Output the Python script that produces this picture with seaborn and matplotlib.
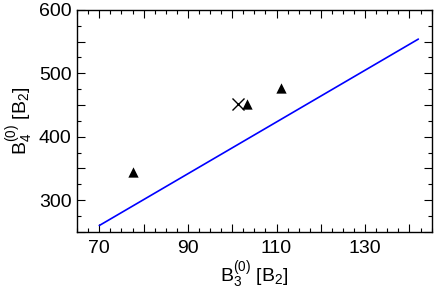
import seaborn as sns
import matplotlib.pyplot as plt
from matplotlib.ticker import MultipleLocator
import pandas as pd

# dati
tri_x = [77.7, 103.3, 110.9]
tri_y = [344, 452, 477]
cross_x = [101.4]
cross_y = [452]
fit_x = [70, 142]
fit_y = [260, 554]

x_ticks = [70, 80, 90, 100, 110, 120, 130, 140]
x_labels = ["70", "", "90", "", "110", "", "130", ""]
y_ticks = [250, 300, 350, 400, 450, 500, 550, 600]
y_labels = ["", "300", "", "400", "", "500", "", "600"]

sns.set_style("ticks")
plt.rcParams['font.family'] = ['Liberation Sans', 'DejaVu Sans']
plt.rcParams['mathtext.fontset'] = 'custom'
plt.rcParams['mathtext.rm'] = 'Liberation Sans'
plt.rcParams['mathtext.it'] = 'Liberation Sans:italic'
plt.rcParams['text.color'] = 'black'
plt.rcParams['axes.labelcolor'] = 'black'
plt.rcParams['xtick.color'] = 'black'
plt.rcParams['ytick.color'] = 'black'

fig, ax = plt.subplots(figsize=(4.36, 2.92), dpi=100)
fig.subplots_adjust(left=0.177, right=0.990, top=0.966, bottom=0.206)

df_fit = pd.DataFrame({"x": fit_x, "y": fit_y})
sns.lineplot(data=df_fit, x="x", y="y", color="#0000ff", lw=1.2, ax=ax)
sns.scatterplot(x=tri_x, y=tri_y, marker="^", color="black", s=55, ax=ax, linewidth=0, zorder=3)
sns.scatterplot(x=cross_x, y=cross_y, marker="x", color="black", s=75, ax=ax, linewidth=1.0, zorder=3)

ax.set_xlim(65, 145)
ax.set_ylim(250, 600)
ax.set_xticks(x_ticks)
ax.set_xticklabels(x_labels)
ax.set_yticks(y_ticks)
ax.set_yticklabels(y_labels)
ax.xaxis.set_minor_locator(MultipleLocator(2.5))
ax.yaxis.set_minor_locator(MultipleLocator(25))
ax.tick_params(which="both", direction="in", top=True, right=True, labelsize=14, width=0.8)
ax.tick_params(which="major", length=6)
ax.tick_params(which="minor", length=3)
ax.tick_params(axis="x", pad=6)
ax.tick_params(axis="y", pad=4)
for s in ax.spines.values():
    s.set_linewidth(1.0)
    s.set_color("black")

ax.set_xlabel(r"$\mathrm{B}_3^{(0)}$ [B$_2$]", fontsize=14, labelpad=2)
ax.set_ylabel(r"$\mathrm{B}_4^{(0)}$ [B$_2$]", fontsize=14, labelpad=2)

plt.savefig("out.png", dpi=100)
